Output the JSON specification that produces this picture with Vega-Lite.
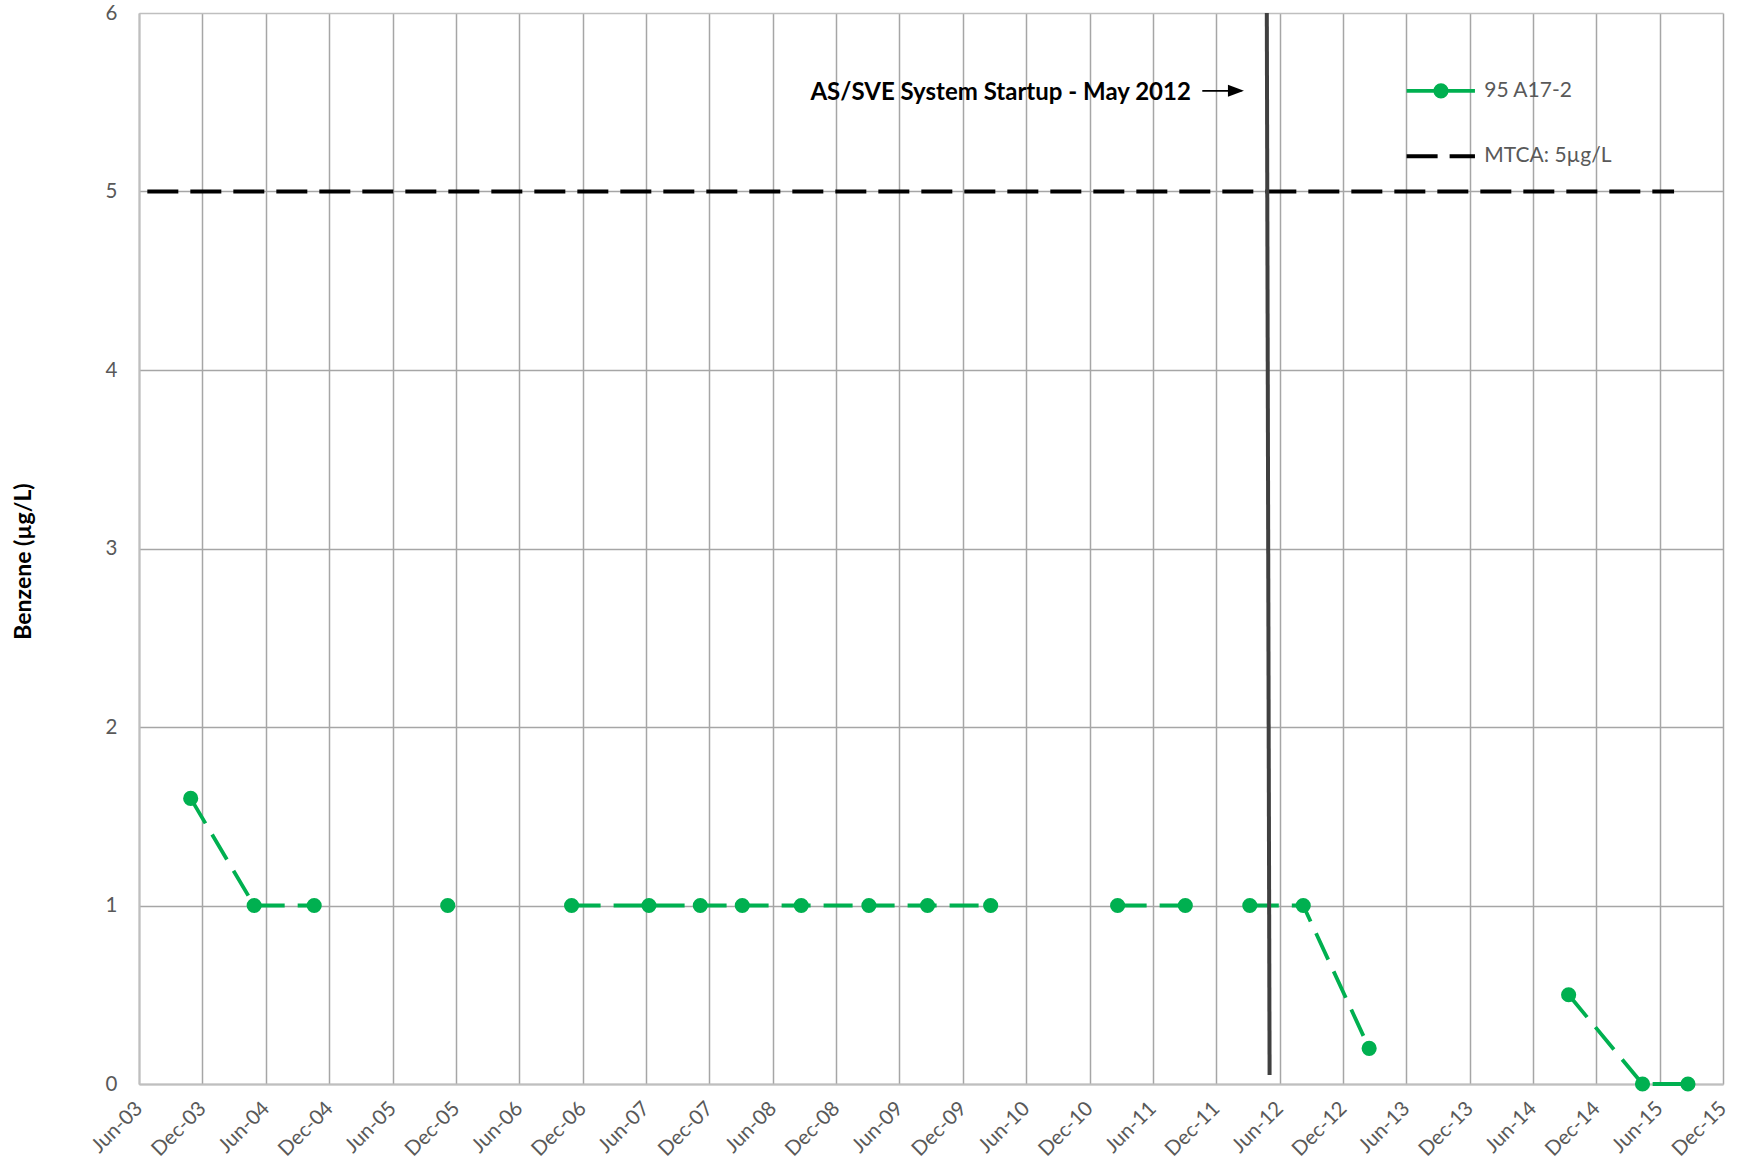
{
  "$schema": "https://vega.github.io/schema/vega-lite/v6.json",
  "width": 1584,
  "height": 1071,
  "autosize": {"type": "none"},
  "padding": {"left": 139, "top": 13, "right": 14, "bottom": 87},
  "background": "white",
  "config": {"view": {"stroke": null}, "font": "Lato"},
  "datasets": {
    "benzene": [
      {"date": "2003-10-28", "benzene": 1.6},
      {"date": "2004-04-28", "benzene": 1.0},
      {"date": "2004-10-18", "benzene": 1.0},
      {"date": "2005-05-01", "benzene": null},
      {"date": "2005-11-07", "benzene": 1.0},
      {"date": "2006-05-01", "benzene": null},
      {"date": "2006-10-30", "benzene": 1.0},
      {"date": "2007-06-10", "benzene": 1.0},
      {"date": "2007-11-05", "benzene": 1.0},
      {"date": "2008-03-05", "benzene": 1.0},
      {"date": "2008-08-22", "benzene": 1.0},
      {"date": "2009-03-05", "benzene": 1.0},
      {"date": "2009-08-21", "benzene": 1.0},
      {"date": "2010-02-19", "benzene": 1.0},
      {"date": "2010-08-01", "benzene": null},
      {"date": "2011-02-20", "benzene": 1.0},
      {"date": "2011-09-03", "benzene": 1.0},
      {"date": "2011-12-01", "benzene": null},
      {"date": "2012-03-07", "benzene": 1.0},
      {"date": "2012-08-08", "benzene": 1.0},
      {"date": "2013-02-14", "benzene": 0.2},
      {"date": "2014-01-01", "benzene": null},
      {"date": "2014-09-12", "benzene": 0.5},
      {"date": "2015-04-13", "benzene": 0.0},
      {"date": "2015-08-22", "benzene": 0.0}
    ]
  },
  "data": {"name": "benzene"},
  "layer": [
    {
      "data": {"values": [{}]},
      "mark": {"type": "rule", "color": "#000000", "strokeWidth": 4, "strokeDash": [31, 12]},
      "encoding": {
        "x": {"datum": {"year": 2003, "month": 6, "date": 25}, "type": "temporal"},
        "x2": {"datum": {"year": 2015, "month": 7, "date": 13}},
        "y": {"datum": 5, "type": "quantitative"}
      }
    },
    {
      "mark": {"type": "line", "color": "#00B050", "strokeWidth": 3.8, "strokeDash": [29, 13], "invalid": "break-paths-show-domains"},
      "encoding": {
        "x": {
          "field": "date",
          "type": "temporal",
          "scale": {"domain": [{"year": 2003, "month": 6, "date": 1}, {"year": 2015, "month": 12, "date": 1}]},
          "axis": {
            "title": null,
            "values": [
              {"year": 2003, "month": 6, "date": 1}, {"year": 2003, "month": 12, "date": 1},
              {"year": 2004, "month": 6, "date": 1}, {"year": 2004, "month": 12, "date": 1},
              {"year": 2005, "month": 6, "date": 1}, {"year": 2005, "month": 12, "date": 1},
              {"year": 2006, "month": 6, "date": 1}, {"year": 2006, "month": 12, "date": 1},
              {"year": 2007, "month": 6, "date": 1}, {"year": 2007, "month": 12, "date": 1},
              {"year": 2008, "month": 6, "date": 1}, {"year": 2008, "month": 12, "date": 1},
              {"year": 2009, "month": 6, "date": 1}, {"year": 2009, "month": 12, "date": 1},
              {"year": 2010, "month": 6, "date": 1}, {"year": 2010, "month": 12, "date": 1},
              {"year": 2011, "month": 6, "date": 1}, {"year": 2011, "month": 12, "date": 1},
              {"year": 2012, "month": 6, "date": 1}, {"year": 2012, "month": 12, "date": 1},
              {"year": 2013, "month": 6, "date": 1}, {"year": 2013, "month": 12, "date": 1},
              {"year": 2014, "month": 6, "date": 1}, {"year": 2014, "month": 12, "date": 1},
              {"year": 2015, "month": 6, "date": 1}, {"year": 2015, "month": 12, "date": 1}
            ],
            "format": "%b-%y",
            "labelAngle": -45,
            "labelAlign": "right",
            "labelBaseline": "middle",
            "labelPadding": 21,
            "labelFontSize": 20.5,
            "labelColor": "#595959",
            "labelFlush": false,
            "labelOverlap": false,
            "labelBound": false,
            "ticks": false,
            "grid": true,
            "gridColor": "#A6A6A6",
            "gridWidth": 1.5,
            "domainColor": "#BFBFBF",
            "domainWidth": 2
          }
        },
        "y": {
          "field": "benzene",
          "type": "quantitative",
          "scale": {"domain": [0, 6], "nice": false, "zero": true},
          "axis": {
            "values": [0, 1, 2, 3, 4, 5, 6],
            "format": "d",
            "title": "Benzene (µg/L)",
            "titleFontSize": 23,
            "titleFontWeight": "bold",
            "titleColor": "#000000",
            "titleX": -116,
            "titleY": 548,
            "titleAlign": "center",
            "titleBaseline": "middle",
            "labelFontSize": 20.5,
            "labelColor": "#595959",
            "labelPadding": 22,
            "labelFlush": false,
            "ticks": false,
            "grid": true,
            "gridColor": {"condition": {"test": "datum.value === 6", "value": "#BFBFBF"}, "value": "#A6A6A6"},
            "gridWidth": 1.5,
            "domainColor": "#BFBFBF",
            "domainWidth": 2
          }
        }
      }
    },
    {
      "transform": [{"filter": "datum.benzene != null"}],
      "mark": {"type": "point", "filled": true, "opacity": 1, "size": 230, "color": "#00B050"},
      "encoding": {
        "x": {"field": "date", "type": "temporal"},
        "y": {"field": "benzene", "type": "quantitative"}
      }
    },
    {
      "data": {"values": [{}]},
      "mark": {"type": "rule", "color": "#404040", "strokeWidth": 4},
      "encoding": {
        "x": {"datum": {"year": 2012, "month": 4, "date": 25}, "type": "temporal"},
        "x2": {"datum": {"year": 2012, "month": 5, "date": 3}},
        "y": {"datum": 6, "type": "quantitative"},
        "y2": {"datum": 0.05}
      }
    },
    {
      "data": {"values": [{}]},
      "mark": {"type": "rule", "color": "#000000", "strokeWidth": 1.6},
      "encoding": {
        "x": {"datum": {"year": 2011, "month": 10, "date": 22}, "type": "temporal"},
        "x2": {"datum": {"year": 2012, "month": 2, "date": 12}},
        "y": {"datum": 5.564, "type": "quantitative"}
      }
    },
    {
      "data": {"values": [{}]},
      "mark": {"type": "point", "shape": "M-1,-0.75L1,0L-1,0.75Z", "filled": true, "opacity": 1, "size": 256, "color": "#000000"},
      "encoding": {
        "x": {"datum": {"year": 2012, "month": 1, "date": 27}, "type": "temporal"},
        "y": {"datum": 5.564, "type": "quantitative"}
      }
    },
    {
      "data": {"values": [{}]},
      "mark": {"type": "text", "text": "AS/SVE System Startup - May 2012", "font": "Lato", "fontWeight": "bold", "fontSize": 24, "align": "right", "baseline": "middle", "dy": 2, "color": "#000000"},
      "encoding": {
        "x": {"datum": {"year": 2011, "month": 9, "date": 19}, "type": "temporal"},
        "y": {"datum": 5.564, "type": "quantitative"}
      }
    },
    {
      "data": {"values": [{}]},
      "mark": {"type": "rule", "color": "#00B050", "strokeWidth": 3.8},
      "encoding": {
        "x": {"datum": {"year": 2013, "month": 6, "date": 2}, "type": "temporal"},
        "x2": {"datum": {"year": 2013, "month": 12, "date": 16}},
        "y": {"datum": 5.564, "type": "quantitative"}
      }
    },
    {
      "data": {"values": [{}]},
      "mark": {"type": "point", "filled": true, "opacity": 1, "size": 230, "color": "#00B050"},
      "encoding": {
        "x": {"datum": {"year": 2013, "month": 9, "date": 9}, "type": "temporal"},
        "y": {"datum": 5.564, "type": "quantitative"}
      }
    },
    {
      "data": {"values": [{}]},
      "mark": {"type": "rule", "color": "#000000", "strokeWidth": 4, "strokeDash": [31, 12]},
      "encoding": {
        "x": {"datum": {"year": 2013, "month": 6, "date": 2}, "type": "temporal"},
        "x2": {"datum": {"year": 2013, "month": 12, "date": 16}},
        "y": {"datum": 5.198, "type": "quantitative"}
      }
    },
    {
      "data": {"values": [{}]},
      "mark": {"type": "text", "text": "95 A17-2", "font": "Lato", "fontSize": 21, "align": "left", "baseline": "middle", "color": "#595959"},
      "encoding": {
        "x": {"datum": {"year": 2014, "month": 1, "date": 12}, "type": "temporal"},
        "y": {"datum": 5.564, "type": "quantitative"}
      }
    },
    {
      "data": {"values": [{}]},
      "mark": {"type": "text", "text": "MTCA: 5µg/L", "font": "Lato", "fontSize": 21, "align": "left", "baseline": "middle", "color": "#595959"},
      "encoding": {
        "x": {"datum": {"year": 2014, "month": 1, "date": 12}, "type": "temporal"},
        "y": {"datum": 5.198, "type": "quantitative"}
      }
    }
  ]
}
